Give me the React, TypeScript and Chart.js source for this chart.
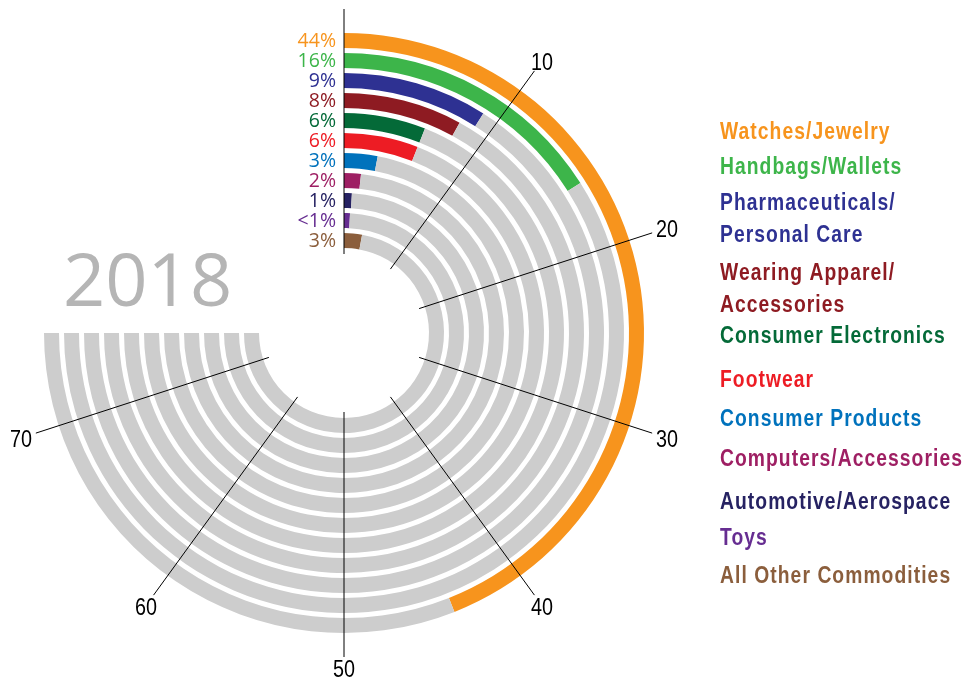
import React, { useEffect, useRef } from "react";
import { Chart, registerables } from "chart.js";

Chart.register(...registerables);

// ---- data ----
const categories = [
  "Watches/Jewelry",
  "Handbags/Wallets",
  "Pharmaceuticals/\nPersonal Care",
  "Wearing Apparel/\nAccessories",
  "Consumer Electronics",
  "Footwear",
  "Consumer Products",
  "Computers/Accessories",
  "Automotive/Aerospace",
  "Toys",
  "All Other Commodities",
];
const shares = [44, 16, 9, 8, 6, 6, 3, 1.7, 0.9, 0.8, 2.9];
const shareLabels = ["44%", "16%", "9%", "8%", "6%", "6%", "3%", "2%", "1%", "<1%", "3%"];
const colors = [
  "#F7941D",
  "#3DB54A",
  "#2E3192",
  "#8E1B22",
  "#046A38",
  "#ED1C24",
  "#0072BC",
  "#9E1F63",
  "#262262",
  "#662D91",
  "#8B5E3C",
];
const scaleMax = 75;
const scaleTicks = [0, 10, 20, 30, 40, 50, 60, 70];
const tickLabels = ["", "10", "20", "30", "40", "50", "60", "70"];
const yearLabel = "2018";

const trackColor = "#CDCDCD";

function condensedText(
  ctx: CanvasRenderingContext2D,
  text: string,
  x: number,
  y: number,
  sx: number
) {
  ctx.save();
  ctx.translate(x, y);
  ctx.scale(sx, 1);
  ctx.fillText(text, 0, 0);
  ctx.restore();
}

const overlay = {
  id: "overlay",
  afterDatasetsDraw(chart: any) {
    const ctx = chart.ctx as CanvasRenderingContext2D;
    const n = chart.data.datasets.length;
    const outer = chart.getDatasetMeta(0).data[0] as any;
    const inner = chart.getDatasetMeta(n - 1).data[0] as any;
    const cx = outer.x;
    const cy = outer.y;
    const R = outer.outerRadius;
    const r0 = inner.innerRadius - 6;
    const r1 = R + 24;
    const start = ((chart.options.rotation - 90) * Math.PI) / 180;
    const span = (chart.options.circumference * Math.PI) / 180;
    const ang = (v: number) => start + (v / scaleMax) * span;

    ctx.save();
    // radial scale lines + labels
    ctx.strokeStyle = "#000";
    ctx.lineWidth = 1;
    ctx.fillStyle = "#000";
    ctx.font = "23px 'Liberation Sans', Arial, sans-serif";
    ctx.textAlign = "center";
    ctx.textBaseline = "middle";
    const tsx = 0.86;
    scaleTicks.forEach((t, i) => {
      const a = ang(t);
      const c = Math.cos(a);
      const s = Math.sin(a);
      ctx.beginPath();
      ctx.moveTo(cx + r0 * c, cy + r0 * s);
      ctx.lineTo(cx + r1 * c, cy + r1 * s);
      ctx.stroke();
      if (tickLabels[i]) {
        const hw = (ctx.measureText(tickLabels[i]).width * tsx) / 2;
        const hh = 7;
        const ext = Math.min(
          Math.abs(c) > 1e-6 ? hw / Math.abs(c) : 1e9,
          Math.abs(s) > 1e-6 ? hh / Math.abs(s) : 1e9
        );
        const d = r1 + 4 + ext;
        condensedText(ctx, tickLabels[i], cx + d * c, cy + d * s + 3, tsx);
      }
    });

    // percent labels at each ring
    ctx.font = "19.5px 'Open Sans', 'Noto Sans', sans-serif";
    ctx.textAlign = "right";
    ctx.textBaseline = "middle";
    shares.forEach((_, i) => {
      const el = chart.getDatasetMeta(i * 2).data[0] as any;
      const mid = (el.innerRadius + el.outerRadius) / 2;
      ctx.fillStyle = colors[i];
      ctx.fillText(shareLabels[i], cx - 8, cy - mid + 1);
    });

    // year label
    ctx.font = "74px 'Open Sans', 'Noto Sans', sans-serif";
    ctx.textAlign = "left";
    ctx.textBaseline = "alphabetic";
    ctx.fillStyle = "#B5B5B5";
    ctx.fillText(yearLabel, 63, 306);

    // legend
    const legendBaselines = [
      [139],
      [174],
      [210, 242],
      [280, 312],
      [343],
      [387],
      [426],
      [466],
      [509],
      [545],
      [583],
    ];
    ctx.font = "bold 23.5px 'Liberation Sans', Arial, sans-serif";
    (ctx as any).letterSpacing = "1.3px";
    ctx.textAlign = "left";
    categories.forEach((label, i) => {
      ctx.fillStyle = colors[i];
      label.split("\n").forEach((line, j) => {
        condensedText(ctx, line, 720, legendBaselines[i][j], 0.82);
      });
    });
    (ctx as any).letterSpacing = "0px";
    ctx.restore();
  },
};

export default function App() {
  const ref = useRef<HTMLCanvasElement>(null);
  useEffect(() => {
    if (!ref.current) return;
    const datasets: any[] = [];
    shares.forEach((v, i) => {
      datasets.push({
        label: categories[i],
        data: [v, scaleMax - v],
        backgroundColor: [colors[i], trackColor],
        borderWidth: 0,
        weight: 15,
      });
      if (i < shares.length - 1) {
        datasets.push({
          label: "",
          data: [scaleMax],
          backgroundColor: ["rgba(0,0,0,0)"],
          borderWidth: 0,
          weight: 5,
        });
      }
    });
    const chart = new Chart(ref.current, {
      type: "doughnut",
      data: { labels: ["share", "rest"], datasets },
      options: {
        responsive: false,
        animation: false,
        devicePixelRatio: 1,
        events: [],
        rotation: 0,
        circumference: 270,
        cutout: 85,
        layout: { padding: { left: 44, top: 33, right: 333, bottom: 49 } },
        plugins: {
          legend: { display: false },
          tooltip: { enabled: false },
        },
      } as any,
      plugins: [overlay],
    });
    return () => chart.destroy();
  }, []);
  return (
    <div style={{ position: "absolute", left: 0, top: 0, width: 977, height: 682, background: "#fff" }}>
      <canvas ref={ref} width={977} height={682} style={{ display: "block", width: 977, height: 682 }} />
    </div>
  );
}
